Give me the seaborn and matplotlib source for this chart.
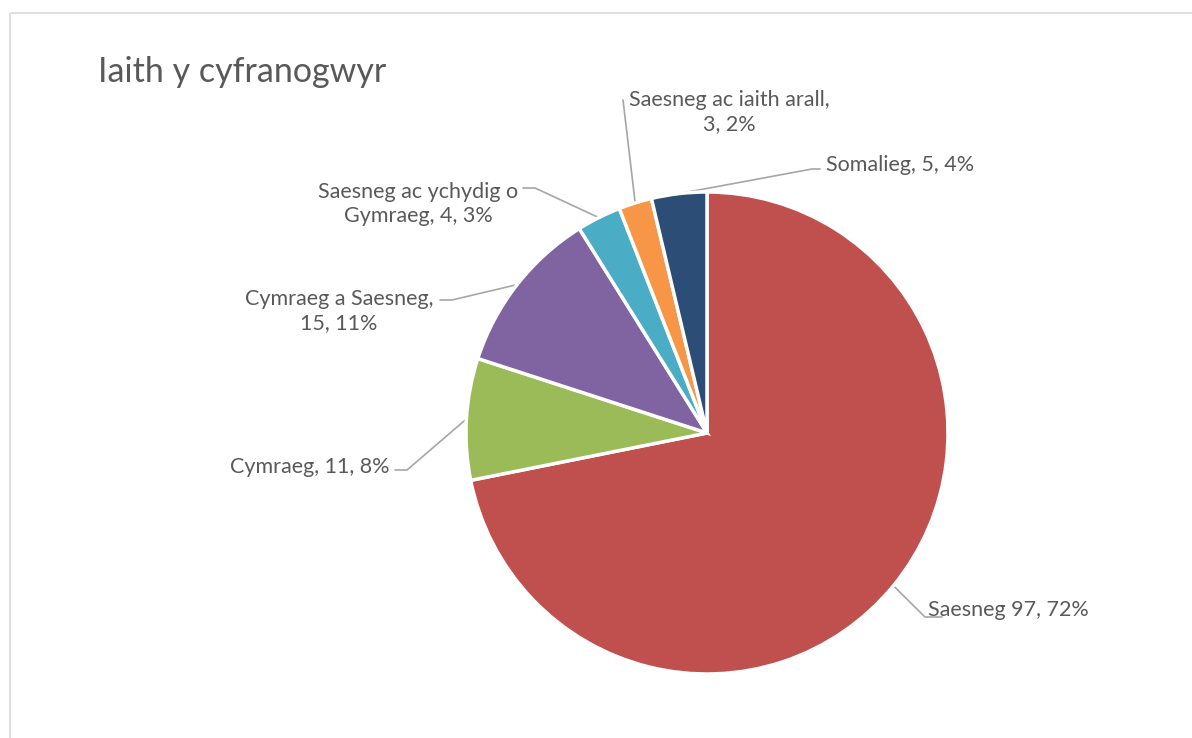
import matplotlib
matplotlib.use("Agg")
import matplotlib.pyplot as plt
import seaborn as sns
import numpy as np
from matplotlib.patches import Rectangle

# ---- data ----
categories = ["Saesneg", "Cymraeg", "Cymraeg a Saesneg",
              "Saesneg ac ychydig o Gymraeg", "Saesneg ac iaith arall", "Somalieg"]
counts = [97, 11, 15, 4, 3, 5]
percents = [72, 8, 11, 3, 2, 4]
label_texts = ["Saesneg 97, 72%", "Cymraeg, 11, 8%", "Cymraeg a Saesneg,\n15, 11%",
               "Saesneg ac ychydig o\nGymraeg, 4, 3%", "Saesneg ac iaith arall,\n3, 2%",
               "Somalieg, 5, 4%"]
colors = ["#C0504D", "#9BBB59", "#8064A2", "#4BACC6", "#F79646", "#2C4D75"]
title = "Iaith y cyfranogwyr"

sns.set_theme(style="white")
plt.rcParams["font.family"] = ["Lato", "DejaVu Sans"]

W, H = 1192, 738
fig = plt.figure(figsize=(W / 100, H / 100), dpi=100)
ax = fig.add_axes([0, 0, 1, 1])
ax.set_xlim(0, W)
ax.set_ylim(0, H)
ax.set_aspect("equal")
ax.axis("off")

def Y(py):
    return H - py

# chart border
ax.add_patch(Rectangle((9.5, Y(12.5)), W, -H, fill=False, edgecolor="#D9D9D9", lw=1.2))

cx, cy, R = 707, Y(433), 241
wedges, _ = ax.pie(counts, startangle=90, counterclock=False, colors=colors,
                   center=(cx, cy), radius=R, frame=True,
                   wedgeprops=dict(edgecolor="white", linewidth=2.5))
ax.set_xlim(0, W)
ax.set_ylim(0, H)
ax.axis("off")

txt_color = "#595959"
line_color = "#A6A6A6"
fs = 15.5

# label layout: (text x, text y in pixels, ha, leader polyline start points)
layout = [
    (928, 610, "left", [(942, 617), (925, 617)]),
    (390, 467, "right", [(395, 470), (407, 470)]),
    (339, 311, "center", [(440, 300), (452, 300)]),
    (418, 204, "center", [(523, 188), (535, 188)]),
    (729, 112, "center", [(623, 100), (623, 100)]),
    (826, 165, "left", [(820, 169), (812, 169)]),
]

for w, txt, (tx, ty, ha, pts) in zip(wedges, label_texts, layout):
    ax.text(tx, Y(ty), txt, ha=ha, va="center", fontsize=fs, color=txt_color,
            linespacing=1.3)
    mid = np.deg2rad((w.theta1 + w.theta2) / 2)
    ex = cx + R * np.cos(mid)
    ey = cy + R * np.sin(mid)
    xs = [p[0] for p in pts] + [ex]
    ys = [Y(p[1]) for p in pts] + [ey]
    ax.plot(xs, ys, color=line_color, lw=1.2, zorder=0.5)

ax.text(98, Y(72), title, ha="left", va="center", fontsize=24.5, color=txt_color)

fig.savefig("out.png", dpi=100, facecolor="white")
